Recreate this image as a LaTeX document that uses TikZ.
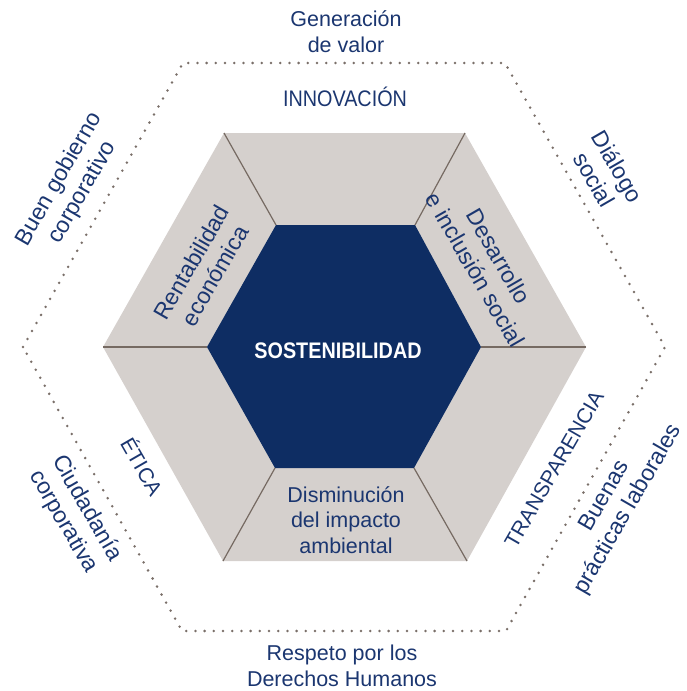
\documentclass[tikz,border=0pt]{standalone}
\usepackage{fontspec}
\setmainfont{Liberation Sans}
\newfontfamily\condfont[FakeStretch=0.88]{Liberation Sans}
\definecolor{navy}{HTML}{0E2D63}
\definecolor{inknavy}{HTML}{1B3670}
\definecolor{panelgray}{HTML}{D5D0CD}
\definecolor{rulegray}{HTML}{766A62}
\definecolor{dotgray}{HTML}{7A6F69}
\tikzset{
  lbl/.style={text=inknavy,align=center,inner sep=0pt,font=\fontsize{21.5}{26}\selectfont},
  caps/.style={lbl,font=\condfont\fontsize{22.5}{26}\selectfont},
  slant/.style={lbl,font=\fontsize{23}{27}\selectfont},
  divider/.style={rulegray,line width=1.2pt},
  dotline/.style={dotgray,line width=2.8pt,line cap=round,dash pattern=on 0pt off 9.2pt},
}
\begin{document}
\begin{tikzpicture}[x=1pt,y=-1pt]
    \useasboundingbox (0,0) rectangle (687,691);
    % outer dotted ring
    \draw[dotline] (23,347) -- (183,63) -- (505,63) -- (665,347) -- (506,631) -- (182,631) -- cycle;
    % grey ring and blue core
    \coordinate (g1) at (103,347);
    \coordinate (g2) at (224,133);
    \coordinate (g3) at (465,133);
    \coordinate (g4) at (586,347);
    \coordinate (g5) at (467,561);
    \coordinate (g6) at (223,561);
    \coordinate (n1) at (207,347);
    \coordinate (n2) at (276,225);
    \coordinate (n3) at (415,225);
    \coordinate (n4) at (481,347);
    \coordinate (n5) at (414,468);
    \coordinate (n6) at (275,468);
    \fill[panelgray] (g1) -- (g2) -- (g3) -- (g4) -- (g5) -- (g6) -- cycle;
    \fill[navy] (n1) -- (n2) -- (n3) -- (n4) -- (n5) -- (n6) -- cycle;
    \foreach \i in {1,...,6}
        \draw[divider] (g\i) -- (n\i);
    % labels
    \node[lbl] (valor) at (346,32) {Generación\\de valor};
    \node[caps] (innov) at (345,97) {INNOVACIÓN};
    \node[slant,rotate=60] (gobierno) at (71,186) {Buen gobierno\\corporativo};
    \node[slant,rotate=60] (rentab) at (203,269) {Rentabilidad\\económica};
    \node[slant,rotate=-60] (desarrollo) at (487,263) {Desarrollo\\e inclusión social};
    \node[slant,rotate=-60] (dialogo) at (606,173) {Diálogo\\social};
    \node[inner sep=0pt,text=white,font=\condfont\bfseries\fontsize{22.5}{26}\selectfont] (sost) at (338,351) {SOSTENIBILIDAD};
    \node[lbl,font=\fontsize{21.5}{25.5}\selectfont] (impacto) at (346,520) {Disminución\\del impacto\\ambiental};
    \node[slant,rotate=-60,font=\fontsize{21}{26}\selectfont] (etica) at (143,466) {ÉTICA};
    \node[slant,rotate=-60] (ciudadania) at (75,515) {Ciudadanía\\corporativa};
    \node[slant,rotate=60,font=\fontsize{21}{26}\selectfont] (transp) at (554,469) {TRANSPARENCIA};
    \node[slant,rotate=60] (laborales) at (617,503) {Buenas\\prácticas laborales};
    \node[lbl] (respeto) at (342,666) {Respeto por los\\Derechos Humanos};
\end{tikzpicture}
\end{document}
